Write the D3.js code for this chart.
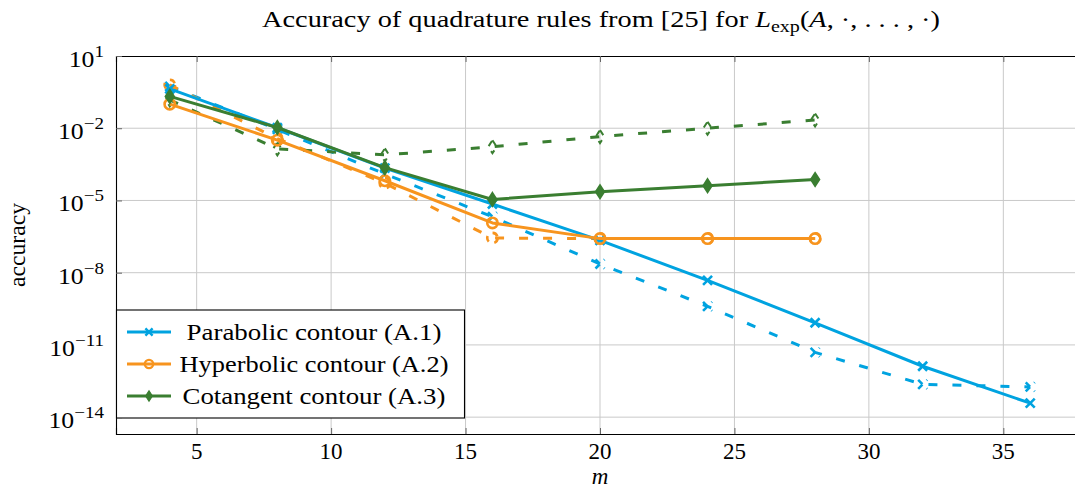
<!DOCTYPE html>
<html>
<head>
<meta charset="utf-8">
<script src="https://cdn.jsdelivr.net/npm/d3@7"></script>
<style>
  html, body { margin: 0; padding: 0; background: #fff; }
  svg { display: block; }
  text { font-family: "Liberation Serif", "Times New Roman", serif; fill: #000; }
</style>
</head>
<body>
<svg id="chart" width="1075" height="491"></svg>
<script>
// quadrature sizes m
const mParabolic = [4, 8, 12, 16, 20, 24, 28, 32, 36];
const mHyperbolic = [4, 8, 12, 16, 20, 24, 28];
const mCotangent = [4, 8, 12, 16, 20, 24, 28];

// accuracy, solid curves
const parabolicSolid = [4.3e-1, 1.05e-2, 2.2e-4, 7.1e-6, 2.2e-7, 4.8e-9, 8.3e-11, 1.3e-12, 3.8e-14];
const hyperbolicSolid = [1.0e-1, 3.2e-3, 6.6e-5, 1.17e-6, 2.6e-7, 2.6e-7, 2.6e-7];
const cotangentSolid = [2.1e-1, 1.07e-2, 2.3e-4, 1.1e-5, 2.3e-5, 4.1e-5, 7.4e-5];

// accuracy, dashed curves
const parabolicDashed = [5.4e-1, 8.9e-3, 1.26e-4, 2.1e-6, 2.3e-8, 4.0e-10, 4.9e-12, 2.3e-13, 1.8e-13];
const hyperbolicDashed = [6.3e-1, 3.7e-3, 5.2e-5, 2.75e-7, 2.6e-7, 2.6e-7, 2.6e-7];
const cotangentDashed = [1.5e-1, 1.4e-3, 7.8e-4, 1.7e-3, 4.5e-3, 1.0e-2, 2.2e-2];

// axis ticks
const xTicks = [5, 10, 15, 20, 25, 30, 35];
const yTickExponents = [1, -2, -5, -8, -11, -14];

const legendLabels = ["Parabolic contour (A.1)", "Hyperbolic contour (A.2)", "Cotangent contour (A.3)"];

const colBlue = "#00a3e0", colOrange = "#f7941e", colGreen = "#3a7e31";

const svg = d3.select("#chart");
const pLeft = 116, pTop = 56, pBottom = 434, pRight = 1084;

const x = d3.scaleLinear().domain([2, 38]).range([pLeft, pRight]);
const y = d3.scaleLog().domain([Math.pow(10, -14.7), 10]).range([pBottom, pTop]);

// stretch a text horizontally about an anchor so it spans a given width
function fitWidth(sel, target, ax) {
  const w = sel.node().getBBox().width;
  const k = target / w;
  sel.attr("transform", `translate(${ax},0) scale(${k},1) translate(${-ax},0)`);
}

// grid
const grid = svg.append("g");
grid.selectAll("line.gx").data(xTicks).enter().append("line")
  .attr("x1", d => x(d)).attr("x2", d => x(d)).attr("y1", pTop).attr("y2", pBottom)
  .attr("stroke", "#c9c9c9").attr("stroke-width", 1);
grid.selectAll("line.gy").data(yTickExponents.filter(e => e < 1)).enter().append("line")
  .attr("x1", pLeft).attr("x2", pRight).attr("y1", e => y(Math.pow(10, e))).attr("y2", e => y(Math.pow(10, e)))
  .attr("stroke", "#c9c9c9").attr("stroke-width", 1);

// axes (box with inward ticks)
const xAxisB = d3.axisBottom(x).tickValues(xTicks).tickSize(-6).tickFormat("");
const xAxisT = d3.axisTop(x).tickValues(xTicks).tickSize(-6).tickFormat("");
const yVals = yTickExponents.map(e => Math.pow(10, e));
const yAxisL = d3.axisLeft(y).tickValues(yVals).tickSize(-6).tickFormat("");
const yAxisR = d3.axisRight(y).tickValues(yVals).tickSize(-6).tickFormat("");
function styleAxis(g) {
  g.select(".domain").attr("stroke", "#000").attr("stroke-width", 1.1);
  g.selectAll(".tick line").attr("stroke", "#666").attr("stroke-width", 1);
}
svg.append("g").attr("transform", `translate(0,${pBottom})`).call(xAxisB).call(styleAxis);
svg.append("g").attr("transform", `translate(0,${pTop})`).call(xAxisT).call(styleAxis);
svg.append("g").attr("transform", `translate(${pLeft},0)`).call(yAxisL).call(styleAxis);
svg.append("g").attr("transform", `translate(${pRight},0)`).call(yAxisR).call(styleAxis);

// tick labels
svg.append("g").selectAll("text").data(xTicks).enter().append("text")
  .attr("x", d => x(d)).attr("y", pBottom + 25).attr("text-anchor", "middle")
  .attr("font-size", 23).text(d => d);

const yLab = svg.append("g").selectAll("text").data(yTickExponents).enter().append("text")
  .attr("x", 104).attr("y", e => y(Math.pow(10, e)) + 11).attr("text-anchor", "end")
  .attr("font-size", 23);
yLab.append("tspan").text("10");
yLab.append("tspan").attr("dy", -10).attr("font-size", 17)
  .text(e => e < 0 ? "\u2212" + (-e) : e);
yLab.each(function () {
  const t = d3.select(this);
  t.attr("transform", "translate(104,0) scale(1.12,1) translate(-104,0)");
});

// axis labels
svg.append("text").attr("x", x(20)).attr("y", 484).attr("text-anchor", "middle")
  .attr("font-size", 23).attr("font-style", "italic").text("m");
const yTitle = svg.append("text").attr("text-anchor", "middle").attr("font-size", 23)
  .attr("x", -(pTop + pBottom) / 2).attr("y", 25).attr("transform", "rotate(-90)").text("accuracy");
yTitle.attr("textLength", 84).attr("lengthAdjust", "spacingAndGlyphs");

// title
const title = svg.append("text").attr("x", 601).attr("y", 27).attr("text-anchor", "middle").attr("font-size", 24);
title.append("tspan").text("Accuracy of quadrature rules from [25] for ");
title.append("tspan").attr("font-style", "italic").text("L");
title.append("tspan").attr("font-size", 17).attr("dy", 5).text("exp");
title.append("tspan").attr("dy", -5).text("(");
title.append("tspan").attr("font-style", "italic").text("A");
title.append("tspan").text(", \u00b7, . . . , \u00b7)");
fitWidth(title, 678, 601);

// plot area
svg.append("clipPath").attr("id", "clip").append("rect")
  .attr("x", pLeft - 10).attr("y", pTop - 10).attr("width", pRight - pLeft + 20).attr("height", pBottom - pTop + 20);
const plot = svg.append("g").attr("clip-path", "url(#clip)");

const line = d3.line().x(d => x(d[0])).y(d => y(d[1]));
const DASH = "9,15";

function markerPath(kind) {
  if (kind === "x") return "M-4.5,-4.5L4.5,4.5M-4.5,4.5L4.5,-4.5";
  if (kind === "o") return d3.symbol(d3.symbolCircle, Math.PI * 5.2 * 5.2)();
  return "M0,-6.5L4.2,0L0,6.5L-4.2,0Z";
}

function drawSeries(ms, vals, color, kind, dashed) {
  const pts = ms.map((m, i) => [m, vals[i]]);
  plot.append("path").datum(pts).attr("d", line)
    .attr("fill", "none").attr("stroke", color).attr("stroke-width", 3)
    .attr("stroke-linejoin", "round")
    .attr("stroke-dasharray", dashed ? DASH : null);
  plot.append("g").selectAll("path").data(pts).enter().append("path")
    .attr("transform", d => `translate(${x(d[0])},${y(d[1])})`)
    .attr("d", markerPath(kind))
    .attr("fill", kind === "d" && !dashed ? color : "none")
    .attr("stroke", color)
    .attr("stroke-width", kind === "d" ? 2 : 2.6)
    .attr("stroke-dasharray", dashed ? "6,6" : null);
}

drawSeries(mParabolic, parabolicDashed, colBlue, "x", true);
drawSeries(mHyperbolic, hyperbolicDashed, colOrange, "o", true);
drawSeries(mCotangent, cotangentDashed, colGreen, "d", true);
drawSeries(mParabolic, parabolicSolid, colBlue, "x", false);
drawSeries(mHyperbolic, hyperbolicSolid, colOrange, "o", false);
drawSeries(mCotangent, cotangentSolid, colGreen, "d", false);

// legend
const lg = svg.append("g");
lg.append("rect").attr("x", 116.5).attr("y", 310).attr("width", 348).attr("height", 108)
  .attr("fill", "#fff").attr("stroke", "#000").attr("stroke-width", 1.1);
const legendItems = [[colBlue, "x", 255], [colOrange, "o", 269], [colGreen, "d", 263]];
legendItems.forEach((it, i) => {
  const cy = 332 + i * 32;
  lg.append("line").attr("x1", 127).attr("x2", 171).attr("y1", cy).attr("y2", cy)
    .attr("stroke", it[0]).attr("stroke-width", 3);
  lg.append("path").attr("transform", `translate(149,${cy}) scale(0.8)`).attr("d", markerPath(it[1]))
    .attr("fill", it[1] === "d" ? it[0] : "none").attr("stroke", it[0])
    .attr("stroke-width", it[1] === "d" ? 1.5 : 3);
  const t = lg.append("text").attr("x", 314).attr("y", cy + 8).attr("text-anchor", "middle")
    .attr("font-size", 24).text(legendLabels[i]);
  fitWidth(t, it[2], 314);
});
</script>
</body>
</html>
